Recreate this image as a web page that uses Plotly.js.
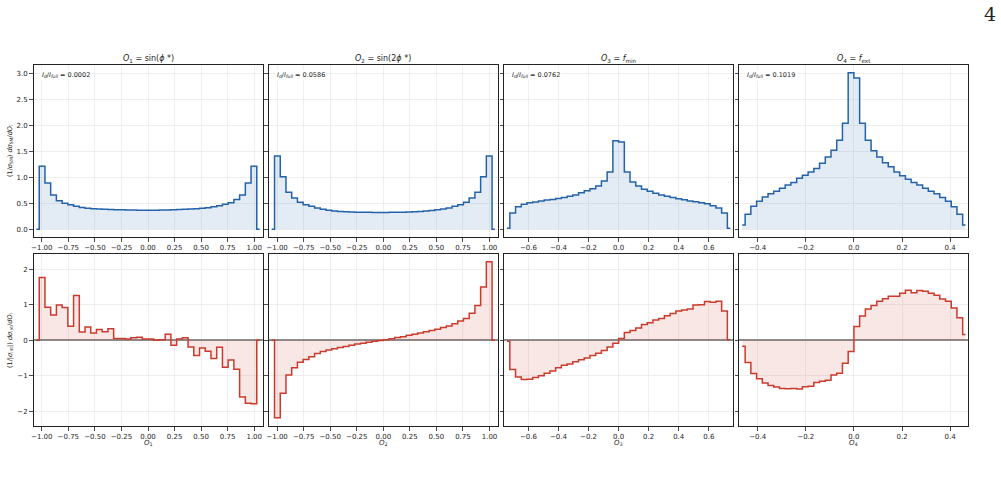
<!DOCTYPE html>
<html><head><meta charset="utf-8">
<script src="https://cdn.plot.ly/plotly-3.0.1.min.js"></script>
<style>html,body{margin:0;padding:0;background:#fff}#chart{width:1001px;height:479px}</style>
</head><body><div id="chart"></div>
<script>
// ---- data ----
const N_BINS = 40;
const binHalfRange = [1.078, 1.078, 0.762, 0.476];
const observableLabels = ['<i>O</i><sub>1</sub>', '<i>O</i><sub>2</sub>', '<i>O</i><sub>3</sub>', '<i>O</i><sub>4</sub>'];
const panelTitles = [
  '<i>O</i><sub>1</sub> = sin(<i>ϕ</i> *)',
  '<i>O</i><sub>2</sub> = sin(2<i>ϕ</i> *)',
  '<i>O</i><sub>3</sub> = <i>f</i><sub>min</sub>',
  '<i>O</i><sub>4</sub> = <i>f</i><sub>ext</sub>'
];
const ratioValues = ['0.0002', '0.0586', '0.0762', '0.1019'];

const smO1 = [0,1.21,0.89,0.66,0.55,0.50,0.47,0.44,0.42,0.405,0.395,0.39,0.385,0.38,0.376,0.372,0.37,0.368,0.366,0.365,0.366,0.367,0.369,0.371,0.374,0.378,0.383,0.389,0.396,0.405,0.415,0.43,0.45,0.48,0.51,0.57,0.66,0.89,1.21,0];
const smO2 = [0,1.41,1.01,0.71,0.60,0.52,0.47,0.44,0.41,0.385,0.365,0.35,0.34,0.335,0.33,0.327,0.325,0.324,0.323,0.323,0.323,0.324,0.325,0.327,0.33,0.334,0.34,0.348,0.36,0.375,0.39,0.41,0.44,0.47,0.52,0.60,0.71,1.01,1.41,0];
const smO3 = [0.02,0.31,0.43,0.48,0.51,0.525,0.545,0.56,0.57,0.59,0.61,0.635,0.66,0.70,0.74,0.78,0.83,0.93,1.10,1.70,1.68,1.10,0.91,0.83,0.77,0.73,0.69,0.66,0.635,0.61,0.585,0.565,0.545,0.53,0.51,0.49,0.45,0.41,0.31,0.02];
const smO4 = [0.08,0.29,0.44,0.54,0.62,0.68,0.73,0.79,0.85,0.90,0.98,1.04,1.10,1.17,1.27,1.39,1.52,1.71,2.04,3.01,2.91,2.04,1.71,1.51,1.39,1.28,1.20,1.10,1.03,0.96,0.90,0.85,0.79,0.73,0.68,0.61,0.54,0.43,0.29,0.08];

const intO1 = [0,1.77,0.93,0.71,0.99,0.92,0.39,1.26,0.23,0.37,0.20,0.30,0.24,0.32,0.05,0.05,0.03,0.07,0.08,0.03,0.03,0.00,0.01,0.17,-0.14,0.03,0.07,-0.19,-0.43,-0.22,-0.31,-0.52,-0.20,-0.76,-0.56,-0.82,-1.60,-1.78,-1.79,0];
const intO2 = [0,-2.19,-1.50,-0.98,-0.78,-0.62,-0.545,-0.47,-0.375,-0.32,-0.28,-0.245,-0.21,-0.18,-0.14,-0.11,-0.085,-0.055,-0.03,-0.01,0.01,0.04,0.075,0.10,0.14,0.17,0.20,0.235,0.27,0.31,0.36,0.40,0.46,0.54,0.61,0.76,0.98,1.50,2.21,0];
const intO3 = [-0.03,-0.83,-1.04,-1.11,-1.10,-1.05,-1.00,-0.93,-0.87,-0.78,-0.71,-0.67,-0.61,-0.55,-0.50,-0.43,-0.37,-0.29,-0.19,-0.09,0.05,0.22,0.27,0.34,0.44,0.49,0.57,0.61,0.69,0.75,0.82,0.85,0.88,0.99,1.00,1.09,1.07,1.10,0.82,0.01];
const intO4 = [-0.17,-0.63,-0.94,-1.09,-1.21,-1.28,-1.32,-1.36,-1.37,-1.36,-1.38,-1.31,-1.30,-1.19,-1.16,-1.13,-0.98,-0.93,-0.65,-0.32,0.385,0.68,0.88,0.98,1.10,1.17,1.24,1.24,1.32,1.41,1.34,1.40,1.38,1.32,1.27,1.16,1.10,0.91,0.63,0.16];

const smSeries = [smO1, smO2, smO3, smO4];
const intSeries = [intO1, intO2, intO3, intO4];

// ---- layout geometry ----
const W = 1001, H = 479;
const panelLeft = [33.5, 268.8, 504.1, 739.4], panelW = 229;
const topRow = [65, 237], botRow = [254, 426];
const px = v => v / W, py = v => 1 - v / H;

const BLUE = '#2463aa', BLUE_FILL = 'rgba(36,99,170,0.13)';
const RED = '#cc3a2c', RED_FILL = 'rgba(204,58,44,0.12)';
const FONT = 'DejaVu Sans, sans-serif';

const traces = [];
const layout = {
  width: W, height: H, margin: {l: 0, r: 0, t: 0, b: 0},
  paper_bgcolor: '#fff', plot_bgcolor: '#fff', showlegend: false,
  font: {family: FONT, size: 7, color: '#262626'},
  annotations: [], shapes: []
};

function axisCommon() {
  return {
    showgrid: true, gridcolor: '#ebebeb', gridwidth: 0.8,
    showline: true, mirror: true, linecolor: '#222', linewidth: 1,
    ticks: 'outside', ticklen: 3.5, tickwidth: 0.8, tickcolor: '#222',
    tickfont: {family: FONT, size: 7, color: '#262626'}, zeroline: false
  };
}

for (let p = 0; p < 4; p++) {
  const R = binHalfRange[p];
  const w = 2 * R / N_BINS;
  const centers = Array.from({length: N_BINS}, (_, i) => -R + (i + 0.5) * w);
  const xd = [px(panelLeft[p]), px(panelLeft[p] + panelW)];
  const xfmt = p < 2 ? {dtick: 0.25, tickformat: '.2f', tick0: 0} : {dtick: 0.2, tickformat: '.1f', tick0: 0};

  [0, 1].forEach(row => {
    const k = p + 1 + row * 4;
    const sfx = k === 1 ? '' : String(k);
    const rowPx = row === 0 ? topRow : botRow;
    layout['xaxis' + sfx] = Object.assign(axisCommon(), {
      domain: xd, range: [-R, R], anchor: 'y' + sfx
    }, xfmt);
    const ya = Object.assign(axisCommon(), {
      domain: [py(rowPx[1]), py(rowPx[0])], anchor: 'x' + sfx,
      showticklabels: p === 0
    });
    if (row === 0) {
      Object.assign(ya, {range: [-0.15, 3.16], dtick: 0.5, tick0: 0, tickformat: '.1f'});
    } else {
      Object.assign(ya, {range: [-2.42, 2.43], dtick: 1, tick0: 0, tickformat: 'd',
        zeroline: true, zerolinecolor: '#8c8c8c', zerolinewidth: 2});
    }
    layout['yaxis' + sfx] = ya;

    traces.push({
      type: 'scatter', mode: 'lines', x: centers,
      y: row === 0 ? smSeries[p] : intSeries[p],
      xaxis: 'x' + sfx, yaxis: 'y' + sfx,
      line: {shape: 'hvh', color: row === 0 ? BLUE : RED, width: 1.5},
      fill: 'tozeroy', fillcolor: row === 0 ? BLUE_FILL : RED_FILL,
      hoverinfo: 'skip'
    });
  });

  const cx = px(panelLeft[p] + panelW / 2);
  layout.annotations.push({
    xref: 'paper', yref: 'paper', x: cx, y: py(59), text: panelTitles[p],
    showarrow: false, xanchor: 'center', yanchor: 'middle',
    font: {family: FONT, size: 8, color: '#222'}
  });
  layout.annotations.push({
    xref: 'paper', yref: 'paper', x: px(panelLeft[p] + 6), y: py(75.5),
    text: '<i>I</i><sub><i>d</i></sub>/<i>I</i><sub><i>full</i></sub> = ' + ratioValues[p],
    showarrow: false, xanchor: 'left', yanchor: 'middle', bgcolor: '#fff', borderpad: 1,
    font: {family: FONT, size: 6.5, color: '#222'}
  });
  layout.annotations.push({
    xref: 'paper', yref: 'paper', x: cx, y: py(443), text: observableLabels[p],
    showarrow: false, xanchor: 'center', yanchor: 'middle',
    font: {family: FONT, size: 7, color: '#222'}
  });
}

layout.annotations.push({
  xref: 'paper', yref: 'paper', x: px(10), y: py(151), textangle: -90,
  text: '(1/<i>σ</i><sub>SM</sub>) <i>dσ</i><sub>SM</sub>/<i>dO</i><sub><i>i</i></sub>',
  showarrow: false, xanchor: 'center', yanchor: 'middle',
  font: {family: FONT, size: 6.5, color: '#222'}
});
layout.annotations.push({
  xref: 'paper', yref: 'paper', x: px(10), y: py(340), textangle: -90,
  text: '(1/|<i>σ</i><sub>int</sub>|) <i>dσ</i><sub>int</sub>/<i>dO</i><sub><i>i</i></sub>',
  showarrow: false, xanchor: 'center', yanchor: 'middle',
  font: {family: FONT, size: 6.5, color: '#222'}
});
layout.annotations.push({
  xref: 'paper', yref: 'paper', x: px(990), y: py(14), text: '4',
  showarrow: false, xanchor: 'center', yanchor: 'middle',
  font: {family: 'DejaVu Serif, Liberation Serif, serif', size: 19, color: '#222'}
});

Plotly.newPlot('chart', traces, layout, {staticPlot: true, displayModeBar: false});
</script></body></html>
